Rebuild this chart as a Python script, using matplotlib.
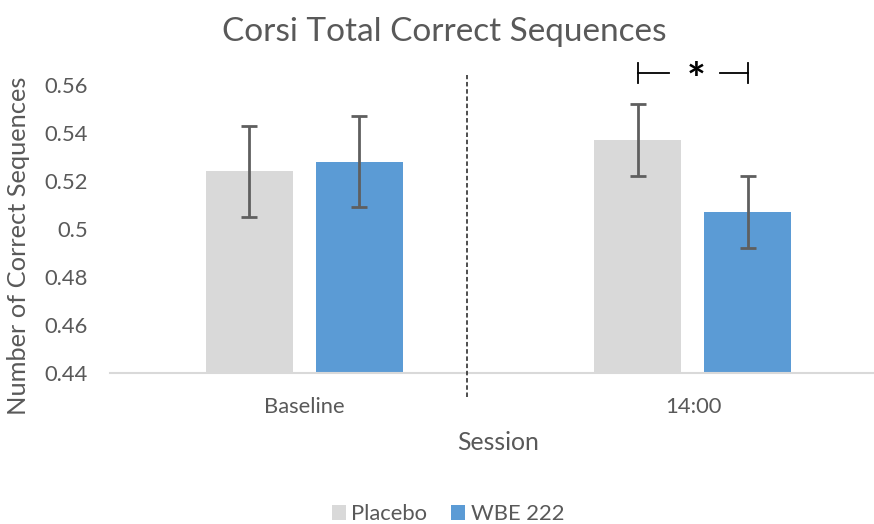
import matplotlib
matplotlib.use("Agg")
import matplotlib.pyplot as plt
import numpy as np

plt.rcParams['font.family'] = ['Lato', 'DejaVu Sans']

sessions = ["Baseline", "14:00"]
groups = ["Placebo", "WBE 222"]
placebo_mean = [0.524, 0.537]
placebo_err = [0.019, 0.015]
wbe_mean = [0.528, 0.507]
wbe_err = [0.019, 0.015]
y_ticks = [0.44, 0.46, 0.48, 0.5, 0.52, 0.54, 0.56]
y_tick_labels = ["0.44", "0.46", "0.48", "0.5", "0.52", "0.54", "0.56"]

colors = ["#D9D9D9", "#5B9BD5"]
text_color = "#595959"
err_color = "#5F5F5F"

W, H = 874, 524
fig = plt.figure(figsize=(W / 100, H / 100), dpi=100)
ax = fig.add_axes([110 / W, 151 / H, 764 / W, 288 / H])

x = np.arange(len(sessions))
bar_w = 0.224
offset = 0.1415
err_kw = dict(ecolor=err_color, elinewidth=2, capsize=5.5, capthick=2)
ax.bar(x - offset, placebo_mean, bar_w, color=colors[0], label=groups[0],
       yerr=placebo_err, error_kw=err_kw, zorder=2)
ax.bar(x + offset, wbe_mean, bar_w, color=colors[1], label=groups[1],
       yerr=wbe_err, error_kw=err_kw, zorder=2)

ax.set_xlim(-0.5, 1.466)
ax.set_ylim(0.44, 0.56)
ax.set_yticks(y_ticks)
ax.set_yticklabels(y_tick_labels)
ax.set_xticks(x)
ax.set_xticklabels(sessions)

for s in ["top", "right", "left"]:
    ax.spines[s].set_visible(False)
ax.spines["bottom"].set_color("#D9D9D9")
ax.spines["bottom"].set_linewidth(1.5)
ax.tick_params(axis="both", length=0, labelsize=15.8, colors=text_color)
ax.tick_params(axis="y", pad=16)
ax.tick_params(axis="x", pad=17)

# axis titles and chart title
fig.text(498 / W, 1 - 443 / H, "Session", fontsize=17.8, color=text_color,
         ha="center", va="center")
fig.text(19 / W, 1 - 246 / H, "Number of Correct Sequences", fontsize=18.3,
         color=text_color, ha="center", va="center", rotation=90)
fig.text(444 / W, 1 - 32 / H, "Corsi Total Correct Sequences", fontsize=24,
         color=text_color, ha="center", va="center")

# session divider
ax.plot([0.418, 0.418], [0.43, 0.564], ls=(0, (2.5, 1.5)), color="#404040",
        lw=1.3, clip_on=False, zorder=3)

# significance bracket between the 14:00 bars
yb, tick_h = 0.565, 0.0042
xl, xr = 1 - offset, 1 + offset
ax.plot([xl, xl], [yb - tick_h, yb + tick_h], color="black", lw=1.3, clip_on=False)
ax.plot([xl, xl + 0.08], [yb, yb], color="black", lw=1.3, clip_on=False)
ax.plot([xr - 0.072, xr], [yb, yb], color="black", lw=1.3, clip_on=False)
ax.plot([xr, xr], [yb - tick_h, yb + tick_h], color="black", lw=1.3, clip_on=False)
ax.text(1.008, yb - 0.0035, "*", fontsize=32, fontweight="bold", ha="center",
        va="center", color="black", clip_on=False)

leg = fig.legend(loc="center", bbox_to_anchor=(448 / W, 1 - 514 / H), ncol=2,
                 frameon=False, fontsize=15.8, handlelength=0.64, handleheight=0.64,
                 handletextpad=0.25, columnspacing=1.1, borderpad=0)
for t in leg.get_texts():
    t.set_color(text_color)

fig.savefig("out.png", dpi=100)
